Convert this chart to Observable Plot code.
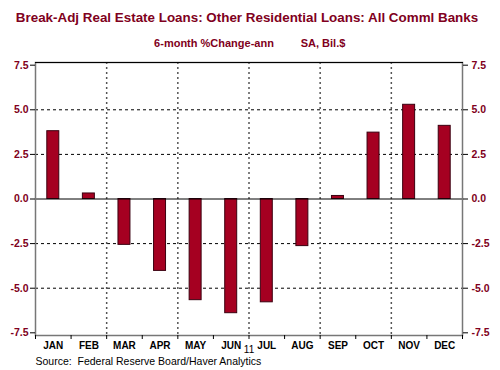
<!DOCTYPE html>
<html>
<head>
<meta charset="utf-8">
<script src="https://cdn.jsdelivr.net/npm/d3@7"></script>
<script src="https://cdn.jsdelivr.net/npm/@observablehq/plot@0.6"></script>
<style>
  html, body { margin: 0; padding: 0; background: #fff; }
</style>
</head>
<body>
<div id="chart"></div>
<script>
const title = "Break-Adj Real Estate Loans: Other Residential Loans: All Comml Banks";
const subtitleLeft = "6-month %Change-ann";
const subtitleRight = "SA, Bil.$";
const source = "Source:  Federal Reserve Board/Haver Analytics";
const months = ["JAN","FEB","MAR","APR","MAY","JUN","JUL","AUG","SEP","OCT","NOV","DEC"];
const values = [3.8, 0.31, -2.57, -4.03, -5.67, -6.4, -5.79, -2.64, 0.17, 3.72, 5.28, 4.1];
const yTicks = [-7.5, -5, -2.5, 0, 2.5, 5, 7.5];
const gridY = [-5, -2.5, 2.5, 5];
const gridX = [2, 4, 6, 8, 10];
const yearLabel = "11";
const yearPos = 6;

const data = months.map((m, i) => ({month: m, i, value: values[i]}));
const maroon = "#800020";

const chart = Plot.plot({
  width: 500,
  height: 370,
  marginLeft: 35,
  marginRight: 38,
  marginTop: 62,
  marginBottom: 35,
  style: {fontFamily: "Arial, 'Liberation Sans', sans-serif", background: "#fff"},
  x: {domain: [0, 12], axis: null},
  y: {domain: [-7.65, 7.65], axis: null},
  marks: [
    Plot.ruleY(gridY, {stroke: "#000", strokeDasharray: "3,3", strokeWidth: 1}),
    Plot.ruleX(gridX, {stroke: "#555", strokeDasharray: "2,3", strokeWidth: 1.5}),
    Plot.rectY(data, {x1: "i", x2: d => d.i + 1, y1: 0, y2: "value", insetLeft: 11.8, insetRight: 11.8, fill: "#A50021", stroke: "#3a0010", strokeWidth: 1}),
    Plot.ruleY([0], {stroke: "#000", strokeWidth: 1}),
    Plot.frame({stroke: "#777", strokeWidth: 1.5}),
    Plot.frame({anchor: "top", stroke: "#000", strokeWidth: 1}),
    Plot.axisY({anchor: "left", ticks: yTicks, tickSize: 5, tickPadding: 2, tickFormat: d => d.toFixed(1), fill: maroon, fontWeight: "bold", fontSize: 10.5, label: null}),
    Plot.axisY({anchor: "right", ticks: yTicks, tickSize: 5, tickPadding: 4, tickFormat: d => d.toFixed(1), fill: maroon, fontWeight: "bold", fontSize: 10.5, label: null}),
    Plot.axisX({ticks: months.map((m, i) => i + 0.5), tickFormat: d => months[Math.floor(d)], tickSize: 0, tickPadding: 6, fill: "#000", fontWeight: "bold", fontSize: 10, label: null}),
    Plot.axisX({ticks: d3.range(0, 13), tickFormat: () => "", tickSize: 4, label: null}),
    Plot.text([yearLabel], {x: () => yearPos, frameAnchor: "bottom", dy: 17, fontSize: 10, fill: "#000"}),
    Plot.text([title], {frameAnchor: "top", dx: -2, dy: -50, fontSize: 13.4, fontWeight: "bold", fill: maroon}),
    Plot.text([subtitleLeft], {frameAnchor: "top", dx: -35, dy: -23, fontSize: 11, fontWeight: "bold", fill: maroon}),
    Plot.text([subtitleRight], {frameAnchor: "top", dx: 74, dy: -23, fontSize: 11, fontWeight: "bold", fill: maroon}),
    Plot.text([source], {frameAnchor: "bottom-left", textAnchor: "start", dy: 29.5, fontSize: 10.5, fill: "#000"})
  ]
});
document.getElementById("chart").appendChild(chart);
</script>
</body>
</html>
